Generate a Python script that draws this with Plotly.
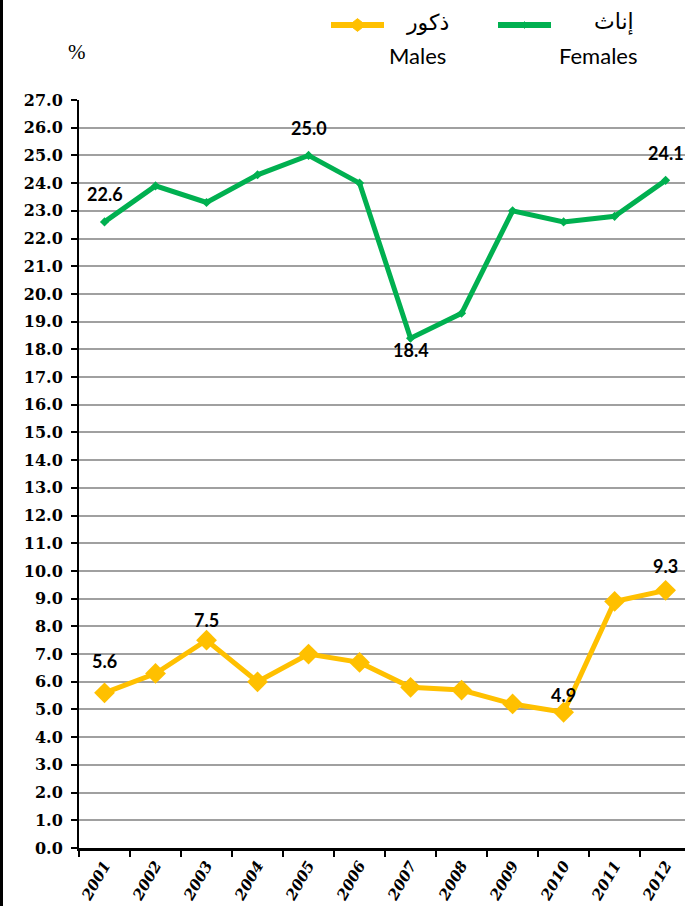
import plotly.graph_objects as go

years = ["2001", "2002", "2003", "2004", "2005", "2006", "2007", "2008", "2009", "2010", "2011", "2012"]
females = [22.6, 23.9, 23.3, 24.3, 25.0, 24.0, 18.4, 19.3, 23.0, 22.6, 22.8, 24.1]
males = [5.6, 6.3, 7.5, 6.0, 7.0, 6.7, 5.8, 5.7, 5.2, 4.9, 8.9, 9.3]

# labelled points: (year index, yshift px)
female_labels = [(0, 28), (4, 27), (6, -12), (11, 27)]
male_labels = [(0, 32), (2, 20), (9, 17), (11, 24)]

y_ticks = [i for i in range(0, 28)]

GREEN = "#00B050"
YELLOW = "#FFC000"

W, H = 685, 906
L, R, T, B = 79, 0, 100, 58
PW = W - L - R
PH = H - T - B


def px(x):
    return (x - L) / PW


def py(y):
    return (H - B - y) / PH


fig = go.Figure()
fig.add_trace(go.Scatter(
    x=years, y=females, mode="lines+markers", name="إناث",
    line=dict(color=GREEN, width=5),
    marker=dict(symbol="diamond", size=7, color=GREEN),
    showlegend=False,
))
fig.add_trace(go.Scatter(
    x=years, y=males, mode="lines+markers", name="ذكور",
    line=dict(color=YELLOW, width=5),
    marker=dict(symbol="diamond", size=16, color=YELLOW),
    showlegend=False,
))

label_font = dict(family="Lato, Carlito, Arial", size=18, color="black")
for i, ys in female_labels:
    fig.add_annotation(x=i, y=females[i], xref="x", yref="y", text=f"<b>{females[i]:.1f}</b>",
                       showarrow=False, yshift=ys, font=label_font)
for i, ys in male_labels:
    fig.add_annotation(x=i, y=males[i], xref="x", yref="y", text=f"<b>{males[i]:.1f}</b>",
                       showarrow=False, yshift=ys, font=label_font)

# percent sign
fig.add_annotation(x=px(66), y=py(52), xref="paper", yref="paper", text="%",
                   yanchor="middle", showarrow=False,
                   font=dict(family="Liberation Serif", size=21, color="black"))

# legend (manual)
leg_font = dict(family="Lato, Noto Sans, DejaVu Sans", size=22, color="black")
ar_font = dict(family="DejaVu Sans, Noto Sans", size=22, color="black")
shapes = []
for (x0, x1, col, dsz) in [(331, 384, YELLOW, 8), (498, 551, GREEN, 4)]:
    shapes.append(dict(type="line", xref="paper", yref="paper",
                       x0=px(x0), x1=px(x1), y0=py(25), y1=py(25),
                       line=dict(color=col, width=6)))
    cx = (x0 + x1) / 2
    path = (f"M {px(cx - dsz)} {py(25)} L {px(cx)} {py(25 - dsz * 0.8)} "
            f"L {px(cx + dsz)} {py(25)} L {px(cx)} {py(25 + dsz * 0.8)} Z")
    shapes.append(dict(type="path", xref="paper", yref="paper", path=path,
                       fillcolor=col, line=dict(color=col, width=1)))

# left border
shapes.append(dict(type="line", xref="paper", yref="paper",
                   x0=px(1.5), x1=px(1.5), y0=py(0), y1=py(H),
                   line=dict(color="black", width=3)))

fig.add_annotation(x=px(451), y=py(22), xref="paper", yref="paper", text="ذكور",
                   xanchor="right", yanchor="middle", showarrow=False, font=ar_font)
fig.add_annotation(x=px(448), y=py(56), xref="paper", yref="paper", text="Males",
                   xanchor="right", yanchor="middle", showarrow=False, font=leg_font)
fig.add_annotation(x=px(636), y=py(22), xref="paper", yref="paper", text="إناث",
                   xanchor="right", yanchor="middle", showarrow=False, font=ar_font)
fig.add_annotation(x=px(639), y=py(56), xref="paper", yref="paper", text="Females",
                   xanchor="right", yanchor="middle", showarrow=False, font=leg_font)

fig.update_layout(
    width=W, height=H,
    margin=dict(l=L, r=R, t=T, b=B, autoexpand=False),
    paper_bgcolor="white", plot_bgcolor="white",
    shapes=shapes,
    xaxis=dict(
        type="category", categoryorder="array", categoryarray=years,
        range=[-0.5, 11.38], automargin=False,
        tickson="boundaries", ticks="outside", ticklen=6, tickwidth=2, tickcolor="black",
        showline=True, linecolor="black", linewidth=2.5,
        showgrid=False, zeroline=False,
        tickangle=-60,
        tickfont=dict(family="DejaVu Serif", size=15, color="black", weight="bold", style="italic"),
    ),
    yaxis=dict(
        range=[0, 27], tickvals=y_ticks, ticktext=[f"{v:.1f}" for v in y_ticks],
        automargin=False,
        ticks="outside", ticklen=6, tickwidth=2, tickcolor="black",
        showline=True, linecolor="black", linewidth=2,
        showgrid=True, gridcolor="#A0A0A0", gridwidth=2,
        zeroline=False,
        ticklabelstandoff=5,
        tickfont=dict(family="DejaVu Serif", size=16, color="black", weight="bold"),
    ),
)

fig.write_html("out.html", config={"displayModeBar": False},
               post_script="document.body.style.margin='0px';")
